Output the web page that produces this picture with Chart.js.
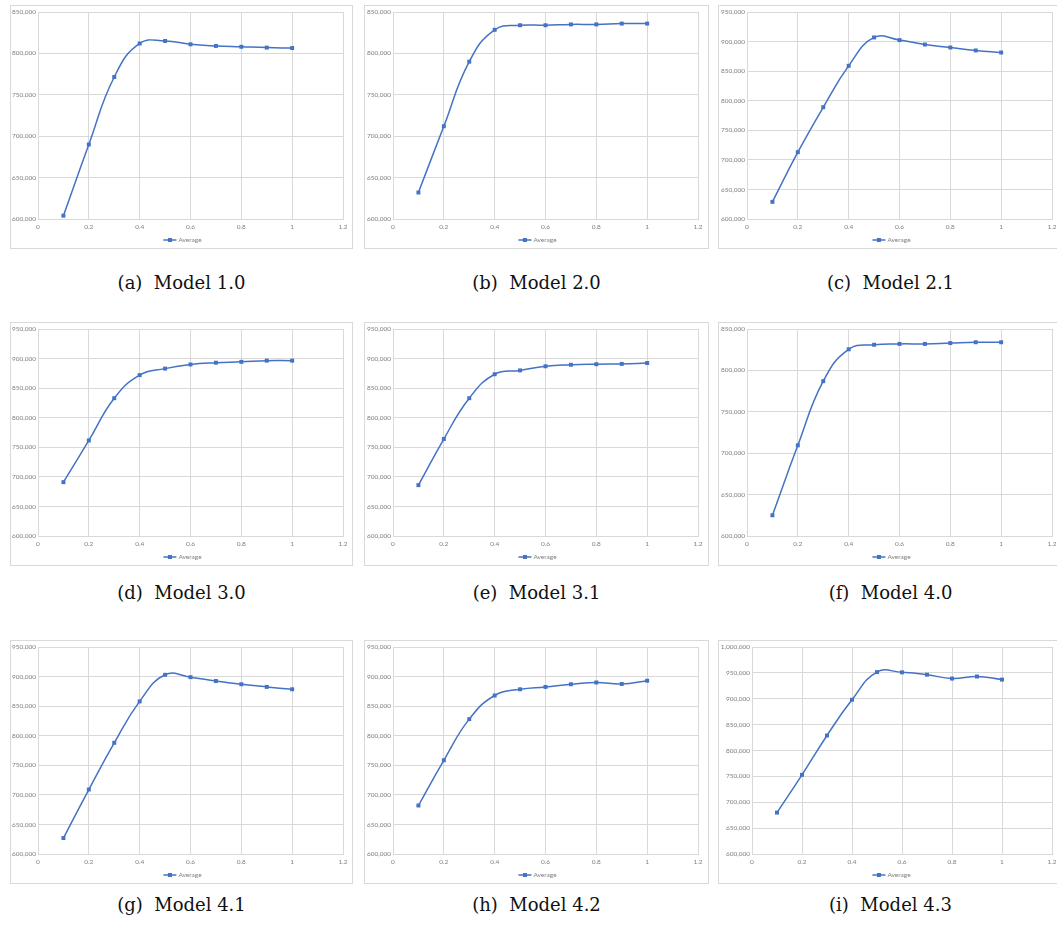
<!DOCTYPE html>
<html>
<head>
<meta charset="utf-8">
<script src="https://cdn.jsdelivr.net/npm/chart.js@4.4.0/dist/chart.umd.min.js"></script>
<style>
html, body { margin: 0; padding: 0; background: #fff; }
body { width: 1057px; height: 930px; position: relative; overflow: hidden; }
.panel { position: absolute; border: 1px solid #d9d9d9; box-sizing: border-box; background: #fff; overflow: hidden; }
.panel canvas { position: absolute; left: 0; top: 0; }
.caption { position: absolute; width: 345px; text-align: center; font-family: "DejaVu Serif", serif; font-size: 18px; line-height: 22px; color: #111; white-space: pre; }
</style>
</head>
<body>
<script>
// x positions shared by every model, and axis tick labels
var xValues = [0.1, 0.2, 0.3, 0.4, 0.5, 0.6, 0.7, 0.8, 0.9, 1.0];
var xTicks = [0, 0.2, 0.4, 0.6, 0.8, 1, 1.2];
var yMin = 600000;
var yStep = 50000;

// "Average" series, one per model
var model10 = [604000, 690000, 771500, 812000, 815000, 811000, 809000, 808000, 807000, 806500];
var model20 = [632000, 712000, 790000, 828500, 834000, 834000, 835000, 835000, 836000, 836000];
var model21 = [629000, 713000, 789000, 859000, 907000, 902500, 895000, 890000, 885000, 881500];
var model30 = [691000, 761500, 833000, 872000, 883000, 890000, 893000, 894500, 896500, 896500];
var model31 = [686000, 764000, 833000, 873500, 880000, 887000, 889500, 890500, 891000, 892500];
var model40 = [625000, 709500, 787000, 825500, 831000, 832000, 832000, 833000, 834000, 834000];
var model41 = [627000, 709000, 788000, 858000, 903000, 899000, 892500, 887000, 882500, 878500];
var model42 = [682000, 758500, 828000, 868000, 878500, 882500, 887000, 890000, 887500, 893000];
var model43 = [680000, 753000, 829000, 898000, 951500, 951000, 946500, 939000, 943000, 937000];

var seriesList = [model10, model20, model21, model30, model31, model40, model41, model42, model43];
var yMaxList = [850000, 850000, 950000, 950000, 950000, 850000, 950000, 950000, 1000000];
var captionTags = ['(a)', '(b)', '(c)', '(d)', '(e)', '(f)', '(g)', '(h)', '(i)'];
var modelNames = ['Model 1.0', 'Model 2.0', 'Model 2.1', 'Model 3.0', 'Model 3.1', 'Model 4.0', 'Model 4.1', 'Model 4.2', 'Model 4.3'];
var legendLabel = 'Average';

// panel geometry
var cols = [
    { left: 10, width: 343, plotLeft: 27 },
    { left: 364, width: 345, plotLeft: 28 },
    { left: 718, width: 345, plotLeft: 28 }
];
var rows = [
    { top: 5, capMid: 283 },
    { top: 322, capMid: 593 },
    { top: 640, capMid: 905 }
];
var boxHeight = 244;
var plotWidth = 305;

var blue = '#4472C4';
var gridColor = '#d9d9d9';
var tickColor = '#7f7f7f';
var tickFont = { family: 'Lato, "Liberation Sans", sans-serif', size: 6.5 };

// Excel style legend: short line with a marker, then the label
var excelLegend = {
    id: 'excelLegend',
    afterDraw: function (chart) {
        var ctx = chart.ctx;
        var y = chart.chartArea.bottom + 21;
        ctx.save();
        ctx.font = tickFont.size + 'px ' + tickFont.family;
        var tw = ctx.measureText(legendLabel).width;
        var lineLen = 13, gap = 2;
        var x0 = chart.width / 2 + 1 - (lineLen + gap + tw) / 2;
        ctx.strokeStyle = blue;
        ctx.lineWidth = 1.5;
        ctx.beginPath();
        ctx.moveTo(x0, y);
        ctx.lineTo(x0 + lineLen, y);
        ctx.stroke();
        ctx.fillStyle = blue;
        ctx.fillRect(x0 + lineLen / 2 - 2, y - 2, 4, 4);
        ctx.fillStyle = tickColor;
        ctx.textBaseline = 'middle';
        ctx.textAlign = 'left';
        ctx.fillText(legendLabel, x0 + lineLen + gap, y);
        ctx.restore();
    }
};

function fmtY(v) {
    return Number(v).toLocaleString('en-US');
}

function fmtX(v) {
    return String(Number(Number(v).toFixed(1)));
}

function makePanel(idx) {
    var col = cols[idx % 3];
    var row = rows[Math.floor(idx / 3)];
    var values = seriesList[idx];
    var yMax = yMaxList[idx];

    var panel = document.createElement('div');
    panel.className = 'panel';
    panel.style.left = col.left + 'px';
    panel.style.top = row.top + 'px';
    panel.style.width = col.width + 'px';
    panel.style.height = boxHeight + 'px';
    document.body.appendChild(panel);

    var W = col.width - 2;
    var H = boxHeight - 2;
    var canvas = document.createElement('canvas');
    canvas.width = W;
    canvas.height = H;
    canvas.style.width = W + 'px';
    canvas.style.height = H + 'px';
    panel.appendChild(canvas);

    // wider labels on the 1,000,000 axis push the plot right
    var plotLeft = yMax >= 1000000 ? col.plotLeft + 5 : col.plotLeft;
    var plotRight = col.plotLeft + plotWidth;
    var plotTop = 6;
    var plotBottom = 213;

    var points = xValues.map(function (x, i) {
        return { x: x, y: values[i] };
    });

    new Chart(canvas, {
        type: 'line',
        data: {
            datasets: [{
                label: legendLabel,
                data: points,
                borderColor: blue,
                backgroundColor: blue,
                borderWidth: 1.5,
                pointStyle: 'rect',
                pointRadius: 2.8,
                pointBorderWidth: 0,
                pointBackgroundColor: blue,
                tension: 0.45,
                fill: false
            }]
        },
        options: {
            responsive: false,
            animation: false,
            devicePixelRatio: 1,
            layout: {
                padding: { top: plotTop, right: W - plotRight, bottom: 0, left: 0 }
            },
            plugins: {
                legend: { display: false },
                tooltip: { enabled: false },
                title: { display: false }
            },
            scales: {
                x: {
                    type: 'linear',
                    min: xTicks[0],
                    max: xTicks[xTicks.length - 1],
                    afterBuildTicks: function (scale) {
                        scale.ticks = xTicks.map(function (v) { return { value: v }; });
                    },
                    afterFit: function (scale) {
                        scale.height = H - plotBottom;
                        scale.paddingLeft = 0;
                        scale.paddingRight = 0;
                    },
                    grid: { color: gridColor, lineWidth: 1, drawTicks: false },
                    border: { color: gridColor },
                    ticks: {
                        color: tickColor,
                        font: tickFont,
                        padding: 4,
                        maxRotation: 0,
                        autoSkip: false,
                        callback: fmtX
                    }
                },
                y: {
                    type: 'linear',
                    min: yMin,
                    max: yMax,
                    afterFit: function (scale) {
                        scale.width = plotLeft;
                        scale.paddingTop = 0;
                        scale.paddingBottom = 0;
                    },
                    grid: { color: gridColor, lineWidth: 1, drawTicks: false },
                    border: { color: gridColor },
                    ticks: {
                        color: tickColor,
                        font: tickFont,
                        padding: 2,
                        stepSize: yStep,
                        autoSkip: false,
                        callback: fmtY
                    }
                }
            }
        },
        plugins: [excelLegend]
    });

    var cap = document.createElement('div');
    cap.className = 'caption';
    cap.style.left = (col.left + col.width / 2 - 345 / 2) + 'px';
    cap.style.top = (row.capMid - 11) + 'px';
    cap.textContent = captionTags[idx] + '  ' + modelNames[idx];
    document.body.appendChild(cap);
}

for (var i = 0; i < seriesList.length; i++) {
    makePanel(i);
}
</script>
</body>
</html>
